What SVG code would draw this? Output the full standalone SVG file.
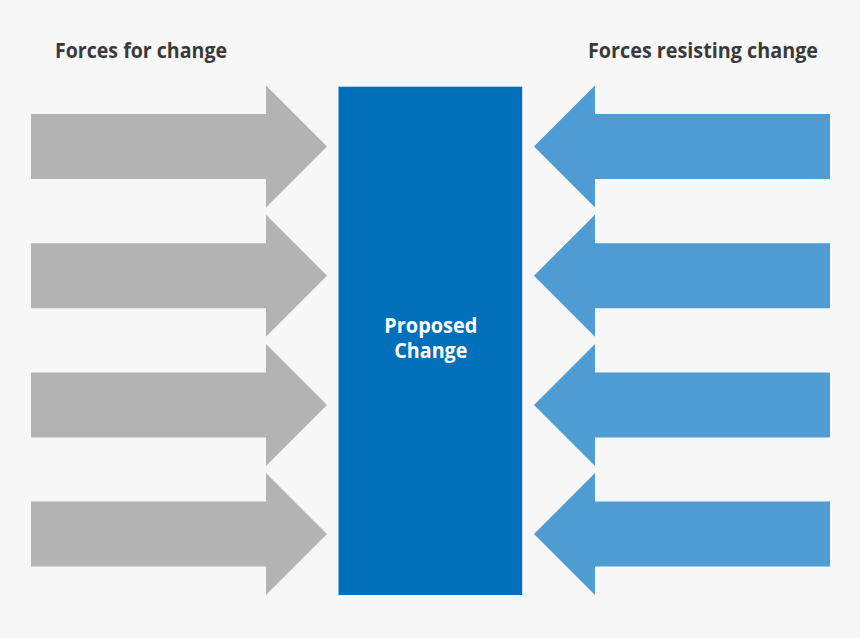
<svg xmlns="http://www.w3.org/2000/svg" width="860" height="638" viewBox="0 0 860 638">
<defs>
<style>
.bg{fill:#f7f7f7}
.fwd{fill:#b3b3b3}
.res{fill:#4f9cd3}
.core{fill:#0070bb}
.hdr{font-family:"Open Sans","Liberation Sans",sans-serif;font-weight:700;font-size:22px;fill:#3a3a3a}
.lbl{font-family:"Open Sans","Liberation Sans",sans-serif;font-weight:700;font-size:21px;fill:#ffffff;text-anchor:middle}
</style>
<path id="ra" d="M0,-32.5 H235 V-61 L296,0 L235,61 V32.5 H0 Z"/>
<path id="la" d="M0,0 L61,-61 V-32.5 H296 V32.5 H61 V61 Z"/>
</defs>
<rect class="bg" x="0" y="0" width="860" height="638"/>
<g id="headers">
<text class="hdr" x="55" y="58" textLength="172" lengthAdjust="spacingAndGlyphs">Forces for change</text>
<text class="hdr" x="588" y="58" textLength="230" lengthAdjust="spacingAndGlyphs">Forces resisting change</text>
</g>
<g id="connectors">
<use href="#ra" class="fwd" x="31" y="146.5"/>
<use href="#ra" class="fwd" x="31" y="275.7"/>
<use href="#ra" class="fwd" x="31" y="404.9"/>
<use href="#ra" class="fwd" x="31" y="534.1"/>
<use href="#la" class="res" x="534" y="146.5"/>
<use href="#la" class="res" x="534" y="275.7"/>
<use href="#la" class="res" x="534" y="404.9"/>
<use href="#la" class="res" x="534" y="534.1"/>
</g>
<g id="proposed-change">
<rect class="core" x="338.5" y="86.7" width="183.7" height="508.3"/>
<text class="lbl" x="430.8" y="332.5" textLength="93" lengthAdjust="spacingAndGlyphs">Proposed</text>
<text class="lbl" x="430.8" y="358" textLength="73" lengthAdjust="spacingAndGlyphs">Change</text>
</g>
</svg>
